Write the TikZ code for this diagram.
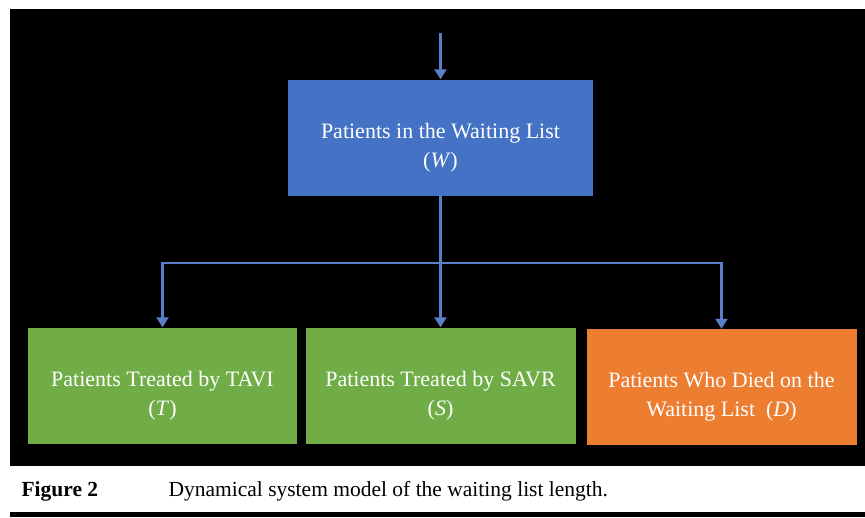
\documentclass[tikz,border=0pt]{standalone}
\usepackage{fontspec}
\setmainfont{Liberation Serif}
\usepackage{xcolor}
\usepackage{tikz}
\usetikzlibrary{positioning}
\usetikzlibrary{arrows.meta}

\definecolor{boxblue}{HTML}{4472C4}
\definecolor{boxgreen}{HTML}{70AD47}
\definecolor{boxorange}{HTML}{ED7D31}
\definecolor{lineblue}{HTML}{5B7FC7}

% pushes the two text lines a little below the box centre
\newcommand{\topgap}{\rule{0pt}{35pt}}

\begin{document}
\begin{tikzpicture}
  [ x=1pt, y=-1pt,
    stock/.style={minimum height=116pt, inner sep=2pt, align=center,
      text=white, font=\fontsize{22}{29}\selectfont},
    flow/.style={draw=lineblue, line width=2.2pt,
      -{Triangle[length=10pt,width=12pt]}},
    link/.style={draw=lineblue, line width=2.2pt}
  ]

  \useasboundingbox (0,0) rectangle (865,517);
  \fill[black] (10,9) rectangle (865,466);
  \fill[black] (10,512) rectangle (865,517);

  \node (W) at (440.5,137.5) [stock, fill=boxblue, minimum width=305pt]
    {\topgap Patients in the Waiting List\\(\textit{W})};
  \node (T) at (162.5,385.5) [stock, fill=boxgreen, minimum width=269pt]
    {\topgap Patients Treated by TAVI\\(\textit{T})};
  \node (S) at (440.5,385.5) [stock, fill=boxgreen, minimum width=270pt]
    {\topgap Patients Treated by SAVR\\(\textit{S})};
  \node (D) at (721.5,387) [stock, fill=boxorange, minimum width=270pt]
    {\topgap Patients Who Died on the\\Waiting List~~(\textit{D})};

  \coordinate (in)    at (440.5,33);
  \coordinate (split) at (440.5,263);

  \draw [flow] (in) -- (W);
  \draw [link] (W) -- (split);
  \draw [flow] (split) -| (T);
  \draw [flow] (split) -- (S);
  \draw [flow] (split) -| (D);

  \node (fig) at (18,491) [anchor=west, font=\fontsize{21.5}{24}\selectfont\bfseries]
    {Figure 2};
  \node (cap) at (165,491) [anchor=west, font=\fontsize{21.5}{24}\selectfont]
    {Dynamical system model of the waiting list length.};
\end{tikzpicture}
\end{document}
